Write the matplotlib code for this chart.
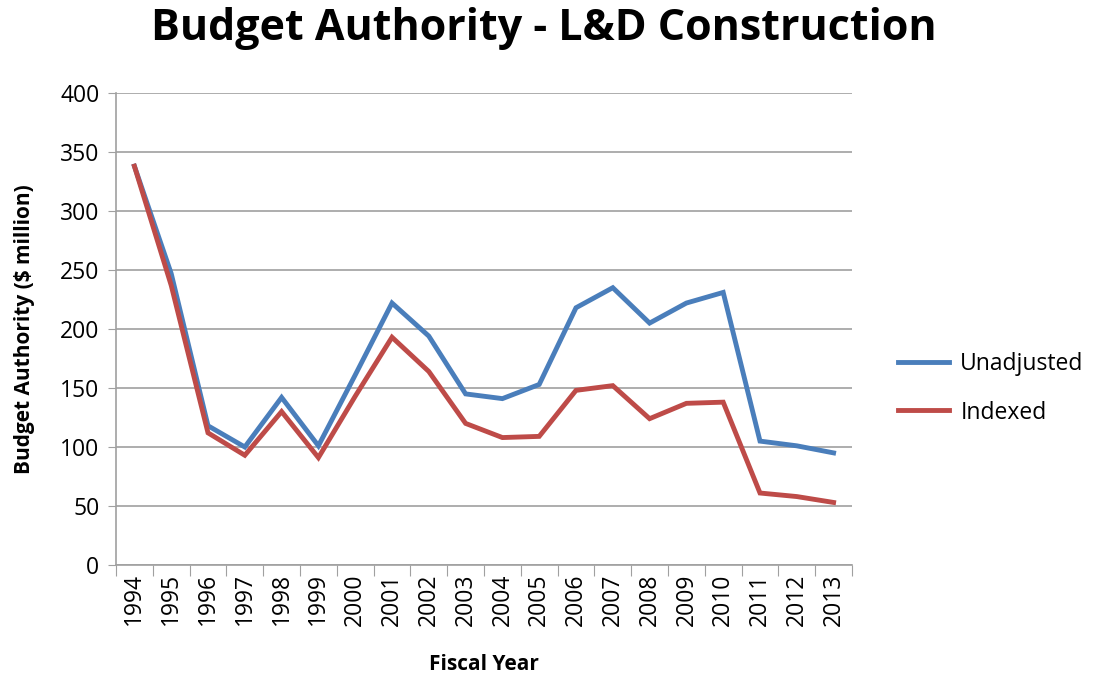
import numpy as np
import matplotlib.pyplot as plt

years = [str(y) for y in range(1994, 2014)]
unadjusted = [338, 247, 118, 100, 142, 101, 161, 222, 194, 145,
              141, 153, 218, 235, 205, 222, 231, 105, 101, 95]
indexed = [338, 237, 112, 93, 130, 91, 143, 193, 164, 120,
           108, 109, 148, 152, 124, 137, 138, 61, 58, 53]

plt.rcParams['font.family'] = ['Open Sans', 'DejaVu Sans']

fig = plt.figure(figsize=(10.98, 6.79), dpi=100)
ax = fig.add_axes([116 / 1098, 1 - 565 / 679, 736 / 1098, 472 / 679])

x = np.arange(len(years))
ax.plot(x, unadjusted, color='#4a7ebb', lw=3.5, label='Unadjusted', solid_joinstyle='miter')
ax.plot(x, indexed, color='#be4b48', lw=3.5, label='Indexed', solid_joinstyle='miter')

ax.set_xlim(-0.5, len(years) - 0.5)
ax.set_ylim(0, 400)
ax.set_yticks(range(0, 401, 50))
ax.yaxis.grid(True, color='#a0a0a0', lw=1.2)
ax.set_axisbelow(True)

ax.set_xticks(np.arange(-0.5, len(years), 1))
ax.set_xticklabels([])
ax.set_xticks(x, minor=True)
ax.set_xticklabels(years, minor=True, rotation=90, fontsize=16.5)
ax.tick_params(axis='x', which='minor', length=0, pad=6)
ax.tick_params(axis='x', which='major', length=8, color='#a0a0a0')
ax.tick_params(axis='y', length=6, color='#a0a0a0', labelsize=16.5, pad=6)

for s in ['top', 'right']:
    ax.spines[s].set_visible(False)
for s in ['left', 'bottom']:
    ax.spines[s].set_color('#a0a0a0')
    ax.spines[s].set_linewidth(1.2)

ax.set_xlabel('Fiscal Year', fontsize=15, fontweight='bold', labelpad=20)
ax.set_ylabel('Budget Authority ($ million)', fontsize=15, fontweight='bold', labelpad=18)
fig.suptitle('Budget Authority - L&D Construction', fontsize=31, fontweight='bold', x=0.495, y=0.99)

ax.legend(loc='center left', bbox_to_anchor=(1.035, 0.374), frameon=False, fontsize=16.5,
          handlelength=2.2, handletextpad=0.5, labelspacing=1.05)

fig.savefig('out.png', dpi=100)
